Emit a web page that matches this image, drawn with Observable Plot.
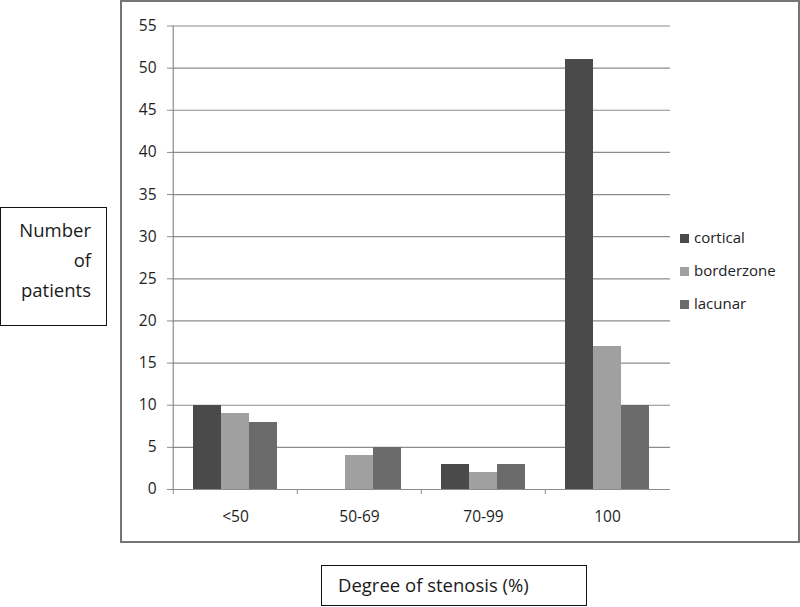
<!DOCTYPE html>
<html>
<head>
<meta charset="utf-8">
<script src="https://cdn.jsdelivr.net/npm/d3@7"></script>
<script src="https://cdn.jsdelivr.net/npm/@observablehq/plot@0.6"></script>
<style>
  html, body { margin: 0; padding: 0; background: #fff; }
  #wrap { position: relative; width: 800px; height: 607px; overflow: hidden; font-family: "Open Sans", sans-serif; color: #222; }
  #frame { position: absolute; left: 120px; top: 0px; width: 676px; height: 539px; border: 2px solid #757575; }
  #chart { position: absolute; left: 0; top: 0; }
  .box { position: absolute; border: 1.5px solid #111; background: #fff; font-size: 18.5px; color: #1a1a1a; }
  #ylab { left: 0px; top: 207px; width: 107px; height: 119px; text-align: right; box-sizing: border-box; padding: 7px 15px 0 0; line-height: 30px; }
  #xlab { left: 321px; top: 565px; width: 266px; height: 41px; box-sizing: border-box; padding: 5px 0 0 16px; line-height: 28px; }
  #legend { position: absolute; left: 680px; top: 226px; font-size: 15px; color: #222; }
  .item { position: relative; height: 33px; line-height: 22px; }
  .sw { display: inline-block; width: 9px; height: 9px; margin-right: 5px; vertical-align: 0px; }
</style>
</head>
<body>
<div id="wrap">
  <div id="frame"></div>
  <div id="chart"></div>
  <div id="legend"></div>
  <div class="box" id="ylab">Number<br>of<br>patients</div>
  <div class="box" id="xlab">Degree of stenosis (%)</div>
</div>
<script>
const categories = ["<50", "50-69", "70-99", "100"];
const seriesNames = ["cortical", "borderzone", "lacunar"];
const cortical = [10, 0, 3, 51];
const borderzone = [9, 4, 2, 17];
const lacunar = [8, 5, 3, 10];
const yTicks = [0, 5, 10, 15, 20, 25, 30, 35, 40, 45, 50, 55];
const colors = ["#4a4a4a", "#a0a0a0", "#6b6b6b"];

const yMax = 55;
const W = 800, H = 607;
const mL = 172, mR = 130, mT = 25.5, mB = 118;
const step = (W - mL - mR) / categories.length;
const barW = 28;
const groupPad = (step - barW * seriesNames.length) / 2;

const rows = categories.map((c, i) => ({cat: c, cortical: cortical[i], borderzone: borderzone[i], lacunar: lacunar[i]}));

const barMarks = seriesNames.map((s, k) =>
  Plot.barY(rows, {
    x: "cat", y: s, fill: colors[k], shapeRendering: "crispEdges",
    insetLeft: groupPad + barW * k,
    insetRight: step - groupPad - barW * (k + 1)
  })
);

const chart = Plot.plot({
  width: W, height: H,
  marginLeft: mL, marginRight: mR, marginTop: mT, marginBottom: mB,
  style: {background: "transparent", fontFamily: "Open Sans, sans-serif", color: "#222", overflow: "visible"},
  x: {domain: categories, padding: 0, axis: null},
  y: {domain: [0, yMax], axis: null},
  marks: [
    Plot.ruleY(yTicks.filter(d => d > 0), {stroke: "#8c8c8c", strokeWidth: 1.2}),
    ...barMarks,
    Plot.ruleY([0], {stroke: "#8c8c8c", strokeWidth: 1.2}),
    Plot.ruleX([categories[0]], {y1: 0, y2: yMax, dx: -step / 2, stroke: "#8c8c8c", strokeWidth: 1.2}),
    Plot.axisY({ticks: yTicks, tickSize: 5, tickPadding: 11, fontSize: 15.5, stroke: "#8c8c8c", strokeOpacity: 1, fill: "#1e1e1e", label: null}),
    Plot.axisX({ticks: categories, tickSize: 5, tickFormat: () => "", dx: -step / 2, stroke: "#8c8c8c", strokeOpacity: 1, label: null}),
    Plot.axisX({ticks: categories, tickSize: 0, tickPadding: 21, fontSize: 15.5, fill: "#1e1e1e", label: null})
  ]
});
document.getElementById("chart").appendChild(chart);

const legend = document.getElementById("legend");
seriesNames.forEach((s, k) => {
  const item = document.createElement("div");
  item.className = "item";
  const sw = document.createElement("span");
  sw.className = "sw";
  sw.style.background = colors[k];
  item.appendChild(sw);
  item.appendChild(document.createTextNode(s));
  legend.appendChild(item);
});
</script>
</body>
</html>
